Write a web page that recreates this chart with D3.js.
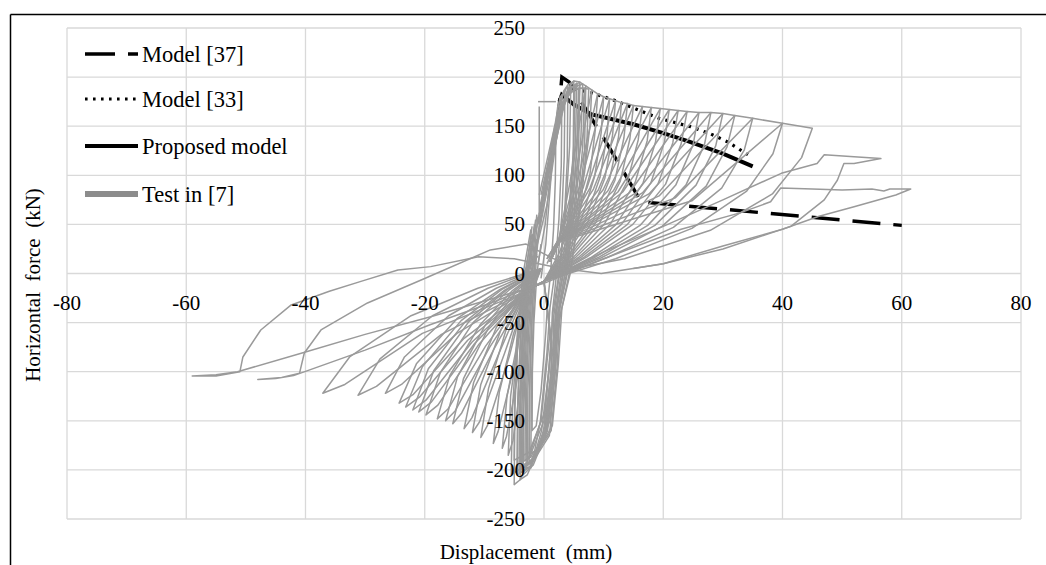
<!DOCTYPE html>
<html>
<head>
<meta charset="utf-8">
<script src="https://cdn.jsdelivr.net/npm/d3@7/dist/d3.min.js"></script>
<style>
  body { margin: 0; background: #fff; }
  svg { display: block; }
  text { font-family: "Liberation Serif", "Times New Roman", serif; fill: #000; }
</style>
</head>
<body>
<svg id="chart" width="1046" height="565"></svg>
<script>
// ---------- DATA ----------
const xTicks = [-80, -60, -40, -20, 0, 20, 40, 60, 80];
const yTicks = [-250, -200, -150, -100, -50, 0, 50, 100, 150, 200, 250];

const seriesNames = ["Model [37]", "Model [33]", "Proposed model", "Test in [7]"];

// visible parts of the model curves (their rising branches are hidden under the test data)
const model37 = [[2.25,150],[3,200],[4.2,195],[10,138],[16.3,73],[60,49]];
const model33 = [[4,184],[5,188],[8,184],[12,176],[16,166],[19.3,158],[24.6,149.5],[28,142],[30.8,134],[34.2,121]];
const proposed = [[2.6,175],[3,182],[5,172],[8,162],[15,152],[20,143],[24,135],[30,122],[35,109]];

// Test in [7] : hysteresis loops (each list is one cycle path)
const testSmallCycles = [
  [[-0.5,-5],[0.3,30],[1.2,100],[1.6,140],[2,150],[1.9,95],[1.6,45],[1.1,0],[0.6,-30],
   [0.3,-60],[-0.5,-120],[-1.3,-155],[-2,-160],[-1.95,-100],[-1.7,-50],[-1.2,0],[-0.5,30]],
  [[-1,10],[0.2,50],[1.4,120],[2.3,170],[3,182],[2.9,110],[2.5,55],[1.8,0],[1,-35],
   [0.5,-80],[-0.6,-150],[-1.8,-188],[-3,-195],[-2.9,-120],[-2.6,-60],[-2,0],[-1.2,35]],
  [[-1.2,30],[0.5,90],[1.9,150],[2.9,178],[3.5,186],[3.4,120],[3,60],[2.2,5],[1.4,-40],
   [1.2,-100],[0.2,-155],[-1.5,-185],[-2.5,-192],[-2.4,-120],[-2.1,-55],[-1.6,5],[-0.9,45]],
  [[-0.5,60],[1.2,130],[2.7,180],[3.3,183],[4,192],[3.9,115],[3.4,55],[2.5,0],[1.5,-40],
   [0.8,-100],[-0.4,-160],[-2.2,-198],[-3,-197],[-4,-210],[-3.9,-130],[-3.5,-65],[-2.8,0],[-1.8,40]],
  [[-1.5,20],[0.5,70],[2.4,150],[3.9,185],[4.5,193],[4.3,130],[3.6,60],[2.6,0],[1.6,-45],
   [1.6,-100],[0.5,-160],[-1.8,-195],[-3.5,-205],[-3.4,-140],[-3,-70],[-2.4,0],[-1.5,50]],
  [[-0.9,40],[1,100],[2.6,160],[4.2,188],[5.2,192],[5,130],[4.2,65],[3,5],[1.9,-40],
   [1.5,-95],[0.4,-158],[-2,-192],[-3.8,-200],[-3.7,-135],[-3.3,-65],[-2.6,5],[-1.6,50]],
  [[-0.6,70],[1.6,140],[3.3,186],[4,192],[5,196],[4.9,120],[4.3,60],[3.2,0],[2,-40],
   [1,-110],[-0.3,-170],[-2.8,-205],[-4,-210],[-5,-215],[-4.9,-140],[-4.4,-70],[-3.5,0],[-2.2,45]],
  [[-1.3,45],[0.8,105],[2.5,165],[4.4,190],[6,192],[5.6,135],[4.8,68],[3.4,5],[2.1,-38],
   [1.7,-98],[0.6,-160],[-2.2,-196],[-4.2,-203],[-4.1,-138],[-3.7,-68],[-3,3],[-2,48]],
  [[-1,50],[1,110],[2.8,170],[4.8,190],[5.5,194],[5.3,140],[4.6,70],[3.5,10],[2.2,-30],
   [1.8,-90],[0.8,-150],[-1.5,-185],[-3.2,-190],[-3.1,-120],[-2.7,-50],[-2,10],[-1.2,60]],
  [[-1,55],[1.3,115],[3,170],[4.6,186],[5.8,188],[5.5,128],[4.7,60],[3.6,2],[2.3,-40],
   [1.9,-100],[0.9,-165],[-1.7,-190],[-3.6,-195],[-3.5,-128],[-3.1,-60],[-2.5,8],[-1.4,55]],
  [[-0.8,80],[1.8,150],[4,188],[5,196],[6,195],[5.8,125],[5,60],[3.8,0],[2.4,-40],
   [1.2,-110],[0,-170],[-2.5,-198],[-4.5,-205],[-4.4,-135],[-4,-70],[-3.2,0],[-2,40]],
  [[-0.7,65],[1.7,125],[3.5,178],[5.2,188],[6.8,189],[6.5,130],[5.6,66],[4.2,8],[2.7,-35],
   [2.2,-95],[1.2,-160],[-1.2,-182],[-2.8,-188],[-2.7,-118],[-2.3,-50],[-1.8,12],[-1,58]],
  [[-0.8,60],[1.3,120],[3.2,175],[5.3,190],[6.5,193],[6.2,140],[5.4,75],[4,15],[2.6,-30],
   [2,-90],[1,-150],[-1,-180],[-2.5,-185],[-2.4,-110],[-2,-40],[-1.5,20],[-0.5,60]],
  [[-0.4,70],[2,135],[3.8,182],[5.8,189],[7.5,188],[7.2,135],[6.2,70],[4.6,10],[3,-35],
   [2.4,-92],[1.4,-155],[-0.8,-178],[-2.2,-183],[-2.1,-110],[-1.8,-45],[-1.3,15],[-0.6,60]],
  [[-0.5,80],[2,150],[4.5,188],[6,195],[7,191],[6.8,125],[5.8,62],[4.4,0],[2.8,-40],
   [1.3,-105],[0.2,-165],[-2.2,-192],[-4,-200],[-3.9,-130],[-3.6,-65],[-2.9,0],[-1.8,40]]
];

const testMidCycles = [
  [[0.5,10],[2.5,35],[4.4,94],[7,191],[8,187],[7.7,150],[6.8,103],[5,56],[2.4,19],[0,-8],
   [1,-60],[-0.5,-150],[-3,-195],[-5.5,-205],[-5.3,-140],[-4.6,-70],[-3.5,0],[-1.5,20]],
  [[0.5,15],[2.5,35],[5,92],[8,187],[9,183],[8.6,146],[7.7,101],[5.6,55],[2.7,18],[0,-8],
   [1.2,-70],[0,-150],[-2.5,-188],[-4.5,-195],[-4.4,-130],[-3.9,-65],[-3,0],[-1.2,20]],
  [[0.5,15],[2.5,35],[5.5,90],[9,183],[10,180],[9.6,144],[8.5,99],[6.2,54],[3,18],[0,-8],
   [1.3,-70],[0.2,-140],[-2.5,-182],[-5,-190],[-4.9,-125],[-4.3,-60],[-3.2,0],[-1,18]],
  [[0.5,15],[2.5,35],[6,89],[10,180],[11,178],[10.6,142],[9.4,98],[6.8,53],[3.3,18],[0,-8],
   [-3,-18],[-3.5,-95],[-5.2,-170],[-6,-185],[-5.6,-125],[-4.2,-60],[-2.2,-20],[-0.5,5]],
  [[1,12],[2.5,32],[6.6,88],[11,178],[12,176],[11.5,141],[10.2,97],[7.4,53],[3.6,18],[0,-8],
   [-3,-18],[-3.9,-89],[-6.3,-166],[-7,-178],[-6.2,-125],[-4.2,-62],[-2.1,-21],[-0.5,5]],
  [[1,12],[2.5,32],[7.2,87],[12,176],[13,174],[12.5,139],[11,96],[8.1,52],[3.9,17],[0,-8],
   [-3,-18],[-4.7,-87],[-7.7,-161],[-8.5,-173],[-7.5,-121],[-5.1,-61],[-2.6,-21],[-0.5,5]],
  [[1,12],[2.5,32],[7.7,87],[13,174],[14,173],[13.4,138],[11.9,95],[8.7,52],[4.2,17],[0,-8],
   [-3,-18],[-5.8,-84],[-9.5,-155],[-10.6,-167],[-9.3,-117],[-6.4,-58],[-3.2,-20],[-0.5,5]],
  [[1,12],[2.5,32],[8.3,86],[14,173],[15,171],[14.4,137],[12.8,94],[9.3,51],[4.5,17],[0,-8],
   [-3,-18],[-6.6,-81],[-10.8,-151],[-12,-162],[-10.6,-113],[-7.2,-57],[-3.6,-19],[-0.5,5]],
  [[1,12],[2.5,32],[9.1,85],[15,171],[16.5,170],[15.8,136],[14,94],[10.2,51],[5,17],[0,-8],
   [-3,-18],[-7.4,-79],[-12.1,-147],[-13.4,-158],[-11.8,-111],[-8,-55],[-4,-19],[-0.5,5]],
  [[1,12],[2.5,32],[9.9,85],[16.5,170],[18,169],[17.3,135],[15.3,93],[11.2,51],[5.4,17],[0,-8],
   [-3,-18],[-8.4,-77],[-13.8,-142],[-15.3,-153],[-13.5,-107],[-9.2,-54],[-4.6,-18],[-0.5,5]],
  [[1,12],[2.5,32],[10.7,84],[18,169],[19.5,168],[18.7,134],[16.6,92],[12.1,50],[5.9,17],[0,-8],
   [-3,-18],[-9.1,-75],[-14.9,-140],[-16.5,-150],[-14.5,-105],[-9.9,-53],[-5,-18],[-0.5,5]],
  [[1,12],[2.5,32],[11.6,84],[19.5,168],[21,167],[20.2,134],[17.9,92],[13,50],[6.3,17],[0,-8],
   [-3,-18],[-9.8,-74],[-16.1,-138],[-17.9,-148],[-15.8,-104],[-10.7,-52],[-5.4,-18],[-0.5,5]],
  [[1,12],[2.5,32],[12.4,83],[21,167],[22.5,166],[21.6,133],[19.1,91],[14,50],[6.8,17],[0,-8],
   [-3,-18],[-10.9,-72],[-17.8,-134],[-19.8,-144],[-17.4,-101],[-11.9,-50],[-5.9,-17],[-0.5,5]],
  [[1,12],[2.5,32],[13.2,83],[22.5,166],[24,165],[23,132],[20.4,91],[14.9,50],[7.2,17],[0,-8],
   [-3,-18],[-11.6,-71],[-18.9,-131],[-21,-141],[-18.5,-99],[-12.6,-49],[-6.3,-17],[-0.5,5]],
  [[1,12],[2.5,32],[14.3,82],[24,165],[26,164],[25,131],[22.1,90],[16.1,49],[7.8,16],[0,-8],
   [-3,-18],[-12.1,-70],[-19.8,-129],[-22,-139],[-19.4,-97],[-13.2,-49],[-6.6,-17],[-0.5,5]],
  [[1,12],[2.5,32],[15.4,82],[26,164],[28,164],[26.9,131],[23.8,90],[17.4,49],[8.4,16],[0,-8],
   [-3,-18],[-12.8,-68],[-20.9,-126],[-23.2,-136],[-20.4,-95],[-13.9,-48],[-7,-16],[-0.5,5]],
  [[1,12],[2.5,32],[16.5,82],[28,164],[30,163],[28.8,130],[25.5,90],[18.6,49],[9,16],[0,-8],
   [-3,-18],[-13.4,-66],[-21.9,-123],[-24.3,-132],[-21.4,-92],[-14.6,-46],[-7.3,-16],[-0.5,5]],
  [[1,12],[2.5,32],[17.6,81],[30,163],[32,161],[30.7,129],[27.2,89],[19.8,48],[9.6,16],[0,-8],
   [-3,-18],[-14.6,-61],[-23.9,-113],[-26.6,-122],[-23.4,-85],[-16,-43],[-8,-15],[-0.5,5]],
  [[1,12],[2.5,32],[19.3,79],[32,161],[35,158],[33.6,126],[29.8,87],[21.7,47],[10.5,16],[0,-8],
   [-3,-18],[-17.2,-62],[-28.1,-115],[-31.2,-124],[-27.5,-87],[-18.7,-43],[-9.4,-15],[-0.5,5]],
  [[1,12],[2.5,32],[22,77],[35,158],[40,153],[38.4,122],[34,84],[24.8,46],[12,15],[0,-8],
   [-3,-18],[-20.4,-61],[-33.4,-113],[-37.1,-122],[-32.6,-85],[-22.3,-43],[-11.1,-15],[-0.5,5]]
];

const testLargeCycles = [
  [[1,12],[2.5,32],[24.8,74],[40,153],[45,148],[43.2,118],[38.3,81],[27.9,44],[13.5,15],[5,5],
   [0,20],[-3,30],[-9,24],[-20.6,-6.6],[-29.6,-30],[-37.4,-57.5],[-40.2,-81],[-41,-101.5],[-44,-106],[-48,-108],
   [-45,-107],[-42,-104],[-30,-78],[-19,-52],[-8,-28],[0,-8]],
  [[0,-8],[10,22],[20,48],[30,75],[39.8,102],[45.8,112],[47,121],[52,119],[56.5,117],
   [52,112],[50.3,112],[49.2,95],[47,75],[41.4,48],[30,25],[20,10],[9.6,0],[3,5],[-5,15],[-11,17],
   [-19,7],[-24.5,3.5],[-30.7,-8],[-36,-18],[-42.4,-32],[-47.5,-57.5],[-50.5,-85],[-51,-100],[-55,-104.5],[-59,-104.5],
   [-55,-103],[-51.4,-100],[-40,-80],[-30,-62],[-19,-44],[-10,-28],[0,-10]],
  [[0,-10],[10,15],[23,45],[33,62],[38,73],[39.7,87],[45,86],[50,85],[55,86],[57,84],[58,86],[61.5,86],
   [59,80],[52,68],[46,58],[40,45],[30,28],[20,10],[15,5]],
  [[-1,175],[2,175]],
  [[-0.8,170],[-0.8,60]]
];

// ---------- LAYOUT ----------
const svg = d3.select("#chart");
const x = d3.scaleLinear().domain([-80, 80]).range([67, 1021]);
const y = d3.scaleLinear().domain([-250, 250]).range([519, 28]);

// outer frame
svg.append("line").attr("x1", 10.5).attr("x2", 1046).attr("y1", 14.5).attr("y2", 14.5)
  .attr("stroke", "#000").attr("stroke-width", 1.5);
svg.append("line").attr("x1", 10.5).attr("x2", 10.5).attr("y1", 14.5).attr("y2", 565)
  .attr("stroke", "#000").attr("stroke-width", 1.5);

// gridlines
const grid = svg.append("g");
grid.selectAll(".vg").data(xTicks).join("line")
  .attr("x1", d => x(d)).attr("x2", d => x(d)).attr("y1", y(250)).attr("y2", y(-250))
  .attr("stroke", "#d9d9d9").attr("stroke-width", 1.3);
grid.selectAll(".hg").data(yTicks).join("line")
  .attr("x1", x(-80)).attr("x2", x(80)).attr("y1", d => y(d)).attr("y2", d => y(d))
  .attr("stroke", "#d9d9d9").attr("stroke-width", 1.3);

// models (drawn under the test curves, as in the reference)
const lin = d3.line().x(d => x(d[0])).y(d => y(d[1]));
svg.append("path").attr("d", lin(model33)).attr("fill", "none").attr("stroke", "#000")
  .attr("stroke-width", 3.2).attr("stroke-dasharray", "2.6,5.4");
svg.append("path").attr("d", lin(proposed)).attr("fill", "none").attr("stroke", "#000")
  .attr("stroke-width", 4);
svg.append("path").attr("d", lin(model37)).attr("fill", "none").attr("stroke", "#000")
  .attr("stroke-width", 3.5).attr("stroke-dasharray", "28,13");

// test curves
const lineGen = d3.line().x(d => x(d[0])).y(d => y(d[1])).curve(d3.curveLinear);
const testG = svg.append("g");
[...testSmallCycles, ...testMidCycles, ...testLargeCycles].forEach(c => {
  testG.append("path").attr("d", lineGen(c)).attr("fill", "none")
    .attr("stroke", "#9a9a9a").attr("stroke-width", 1.5).attr("stroke-linejoin", "round");
});

// tick labels
svg.selectAll(".xl").data(xTicks).join("text")
  .attr("x", d => x(d)).attr("y", y(0) + 29).attr("text-anchor", "middle")
  .attr("dominant-baseline", "central").attr("font-size", 21).text(d => d);
svg.selectAll(".yl").data(yTicks).join("text")
  .attr("x", x(0) - 19).attr("y", d => y(d)).attr("text-anchor", "end")
  .attr("dominant-baseline", "central").attr("font-size", 21).text(d => d);

// axis titles
svg.append("text").attr("x", 526).attr("y", 552).attr("text-anchor", "middle")
  .attr("dominant-baseline", "central").attr("font-size", 21)
  .style("white-space", "pre").text("Displacement  (mm)");
svg.append("text").attr("transform", "translate(33,285) rotate(-90)").attr("text-anchor", "middle")
  .attr("dominant-baseline", "central").attr("font-size", 21)
  .style("white-space", "pre").text("Horizontal  force  (kN)");

// legend
const legRows = [54, 99, 146, 194];
const legStyles = [
  {w: 3.5, dash: "30,13", color: "#000"},
  {w: 3.2, dash: "2.6,5.4", color: "#000"},
  {w: 4, dash: null, color: "#000"},
  {w: 6, dash: null, color: "#8c8c8c"}
];
seriesNames.forEach((n, i) => {
  const l = svg.append("line").attr("x1", 85).attr("x2", 138).attr("y1", legRows[i]).attr("y2", legRows[i])
    .attr("stroke", legStyles[i].color).attr("stroke-width", legStyles[i].w);
  if (legStyles[i].dash) l.attr("stroke-dasharray", legStyles[i].dash);
  svg.append("text").attr("x", 142).attr("y", legRows[i]).attr("dominant-baseline", "central")
    .attr("font-size", 22.5).text(n);
});
</script>
</body>
</html>
